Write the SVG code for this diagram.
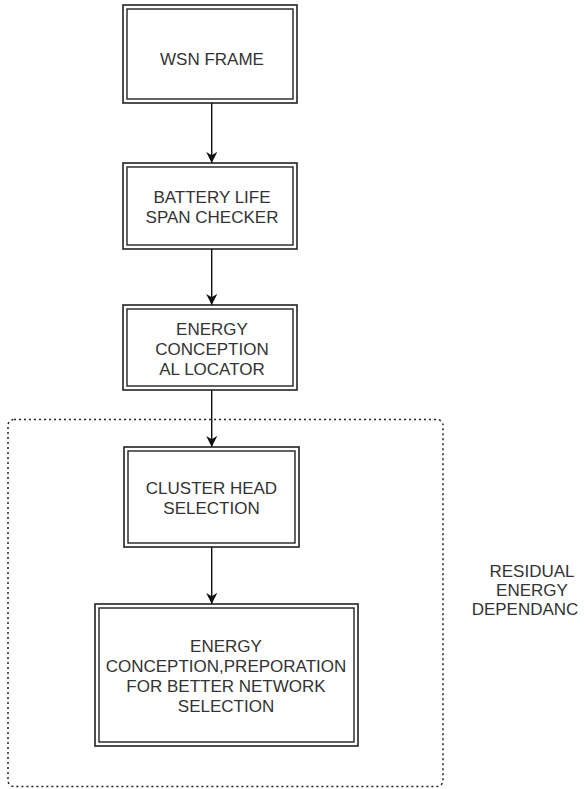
<svg xmlns="http://www.w3.org/2000/svg" width="584" height="789" viewBox="0 0 584 789">
<defs>
<style>
.o{fill:#fff;stroke:#222;stroke-width:1.6}
.i{fill:none;stroke:#222;stroke-width:1.4}
.t{font-family:"Liberation Sans",Arial,sans-serif;font-size:17px;fill:#333;text-anchor:middle}
.c{stroke:#111;stroke-width:1.4;fill:none}
.d{fill:none;stroke:#222;stroke-width:1.5;stroke-dasharray:2 3}
</style>
<marker id="ah" viewBox="0 0 10 10" refX="10" refY="5" markerWidth="11" markerHeight="11" markerUnits="userSpaceOnUse" orient="auto">
<path d="M0,0 L10,5 L0,10 L3,5 Z" fill="#111"/>
</marker>
</defs>
<rect fill="#fff" width="584" height="789"/>
<g id="group-residual">
<rect class="d" x="8" y="419.5" width="435" height="367" rx="6"/>
<text class="t"><tspan x="532" y="577">RESIDUAL</tspan><tspan x="532" y="596">ENERGY</tspan><tspan x="525" y="615">DEPENDANC</tspan></text>
</g>
<g id="node-wsn">
<rect class="o" x="123" y="5" width="174" height="98"/>
<rect class="i" x="127" y="9" width="166" height="90"/>
<text class="t" x="212" y="65">WSN FRAME</text>
</g>
<g id="node-battery">
<rect class="o" x="123" y="163" width="174" height="86"/>
<rect class="i" x="127" y="167" width="166" height="78"/>
<text class="t"><tspan x="212" y="203">BATTERY LIFE</tspan><tspan x="212" y="223">SPAN CHECKER</tspan></text>
</g>
<g id="node-locator">
<rect class="o" x="123" y="305" width="174" height="85"/>
<rect class="i" x="127" y="309" width="166" height="77"/>
<text class="t"><tspan x="212" y="335">ENERGY</tspan><tspan x="212" y="355">CONCEPTION</tspan><tspan x="212" y="375">AL LOCATOR</tspan></text>
</g>
<g id="node-cluster">
<rect class="o" x="124" y="447" width="175" height="100"/>
<rect class="i" x="128" y="451" width="167" height="92"/>
<text class="t"><tspan x="211.5" y="494">CLUSTER HEAD</tspan><tspan x="211.5" y="514">SELECTION</tspan></text>
</g>
<g id="node-preparation">
<rect class="o" x="95" y="604" width="263" height="142"/>
<rect class="i" x="99" y="608" width="255" height="134"/>
<text class="t"><tspan x="226" y="652">ENERGY</tspan><tspan x="226" y="672">CONCEPTION,PREPORATION</tspan><tspan x="226" y="692">FOR BETTER NETWORK</tspan><tspan x="226" y="712">SELECTION</tspan></text>
</g>
<g id="connectors">
<line class="c" x1="211.7" y1="103" x2="211.7" y2="163" marker-end="url(#ah)"/>
<line class="c" x1="211.7" y1="249" x2="211.7" y2="305" marker-end="url(#ah)"/>
<line class="c" x1="211.7" y1="390" x2="211.7" y2="447" marker-end="url(#ah)"/>
<line class="c" x1="211.7" y1="547" x2="211.7" y2="604" marker-end="url(#ah)"/>
</g>
</svg>
